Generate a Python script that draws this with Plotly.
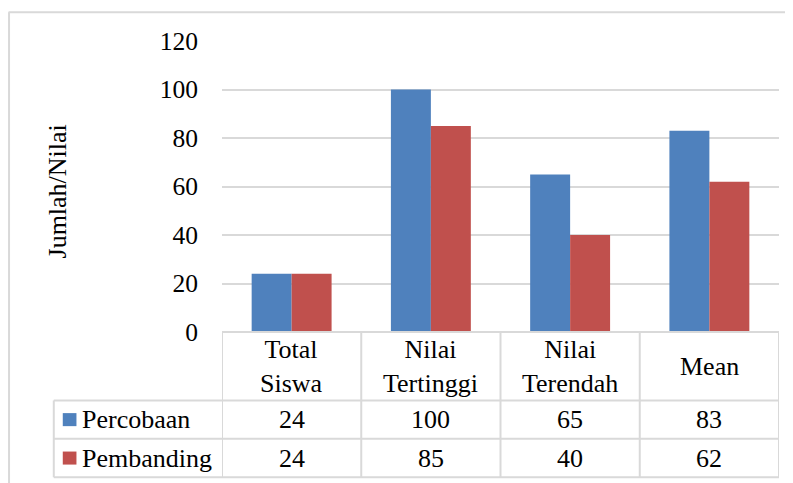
import plotly.graph_objects as go

categories = ["Total<br>Siswa", "Nilai<br>Tertinggi", "Nilai<br>Terendah", "Mean"]
series_names = ["Percobaan", "Pembanding"]
percobaan = [24, 100, 65, 83]
pembanding = [24, 85, 40, 62]
y_ticks = [0, 20, 40, 60, 80, 100, 120]
y_title = "Jumlah/Nilai"
colors = ["#4F81BD", "#C0504D"]

O = 8  # page body margin offset
W, H = 793 - O, 483 - O
L, R = 221.7 - O, 779.3 - O
T, B = 41.3 - O, 331.7 - O
FONT = "Liberation Serif"
GRID = "#D9D9D9"
FS = 26

fig = go.Figure()
xs = list(range(len(categories)))
for name, vals, col in zip(series_names, [percobaan, pembanding], colors):
    fig.add_trace(go.Bar(x=xs, y=vals, name=name, marker=dict(color=col, line=dict(width=0)),
                         showlegend=False))

fig.update_layout(
    width=W, height=H,
    margin=dict(l=L, r=W - R, t=T, b=H - B, pad=0, autoexpand=False),
    paper_bgcolor="white", plot_bgcolor="white",
    barmode="group", bargap=0.426, bargroupgap=0,
    font=dict(family=FONT, size=FS, color="black"),
    xaxis=dict(range=[-0.5, len(categories) - 0.5], showticklabels=False, showgrid=False,
               zeroline=False, showline=False, fixedrange=True),
    yaxis=dict(range=[0, 120], tickvals=y_ticks, showgrid=True, gridcolor=GRID, gridwidth=1.5,
               zeroline=False, showline=False, ticks="", ticklabelstandoff=23,
               tickfont=dict(family=FONT, size=25.5, color="black")),
)

def py(y):
    return (B - (y - O)) / (B - T)

def px(x):
    return ((x - O) - L) / (R - L)

row_y = [331.7, 400.0, 438.3, 476.7]
leg_left = 53.3
shapes = []
line = dict(color=GRID, width=2)
shapes.append(dict(type="line", xref="x", yref="paper", x0=-0.5, x1=len(categories) - 0.5,
                   y0=py(row_y[0]), y1=py(row_y[0]), line=line))
for yy in row_y[1:]:
    shapes.append(dict(type="line", xref="paper", yref="paper", x0=px(leg_left), x1=1,
                       y0=py(yy), y1=py(yy), line=line))
for i in range(len(categories) + 1):
    shapes.append(dict(type="line", xref="x", yref="paper", x0=i - 0.5, x1=i - 0.5,
                       y0=py(row_y[0]), y1=py(row_y[3]), line=line))
shapes.append(dict(type="line", xref="paper", yref="paper", x0=px(leg_left), x1=px(leg_left),
                   y0=py(row_y[1]), y1=py(row_y[3]), line=line))
# outer chart border
shapes.append(dict(type="line", xref="paper", yref="paper", x0=px(8), x1=px(800),
                   y0=py(12.5), y1=py(12.5), line=dict(color=GRID, width=2)))
shapes.append(dict(type="line", xref="paper", yref="paper", x0=px(8.5), x1=px(8.5),
                   y0=py(12.5), y1=py(490), line=dict(color=GRID, width=2)))
for k, col in enumerate(colors):
    yc = (row_y[k + 1] + row_y[k + 2]) / 2
    shapes.append(dict(type="rect", xref="paper", yref="paper", x0=px(62.3), x1=px(76),
                       y0=py(yc - 6.5), y1=py(yc + 6.5), fillcolor=col, line=dict(width=0)))
fig.update_layout(shapes=shapes)

ann = []
ann.append(dict(x=px(57), y=py(191), xref="paper", yref="paper", text=y_title, showarrow=False,
                textangle=-90, font=dict(family=FONT, size=26, color="black"),
                xanchor="center", yanchor="middle"))
hdr_c = (row_y[0] + row_y[1]) / 2
for i, c in enumerate(categories):
    ann.append(dict(x=i, y=py(hdr_c), xref="x", yref="paper", text=c, showarrow=False,
                    font=dict(family=FONT, size=FS, color="black"), xanchor="center",
                    yanchor="middle", align="center"))
for k, (name, vals) in enumerate(zip(series_names, [percobaan, pembanding])):
    yc = (row_y[k + 1] + row_y[k + 2]) / 2
    ann.append(dict(x=px(79.5), y=py(yc), xref="paper", yref="paper", text=name, showarrow=False,
                    font=dict(family=FONT, size=FS, color="black"), xanchor="left", yanchor="middle"))
    for i, v in enumerate(vals):
        ann.append(dict(x=i, y=py(yc), xref="x", yref="paper", text=str(v), showarrow=False,
                        font=dict(family=FONT, size=FS, color="black"), xanchor="center",
                        yanchor="middle"))
fig.update_layout(annotations=ann)

fig.write_html("out.html")
